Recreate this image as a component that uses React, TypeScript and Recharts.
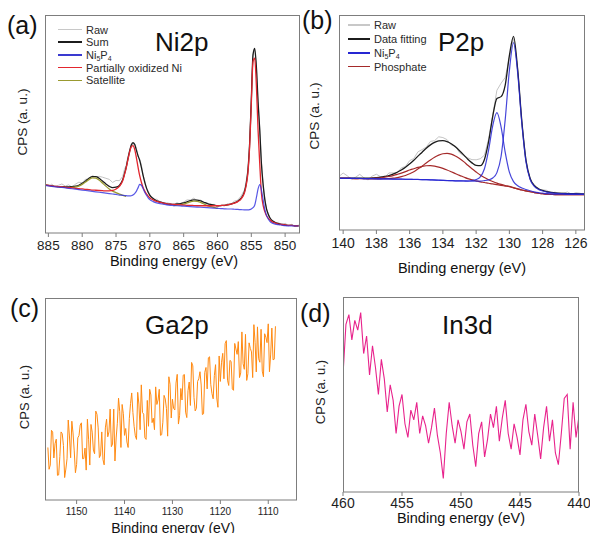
import React from 'react';
import { LineChart, Line, XAxis, YAxis } from 'recharts';

const FONT = '"Liberation Sans", Arial, Helvetica, sans-serif';
const FRAME = '#7d7d7d';
const INK = '#1e1e1e';

// ---------- (a) Ni 2p ----------
const niEnergy = [
  885.5, 885, 884.5, 884, 883.5, 883, 882.5, 882, 881.5, 881, 880.5, 880, 879.5, 879, 878.5, 878, 877.5, 877, 876.5, 876, 875.5, 875, 874.5,
  874, 873.75, 873.5, 873.25, 873, 872.75, 872.5, 872.25, 872, 871.75, 871.5, 871.25, 871, 870.75, 870.5, 870.25,
  870, 869.5, 869, 868.5, 868, 867.5, 867, 866.5, 866, 865.5, 865, 864.5, 864, 863.5, 863, 862.5, 862, 861.5, 861, 860.5, 860, 859.5, 859, 858.5, 858, 857.5, 857, 856.5,
  856, 855.75, 855.5, 855.25, 855, 854.75, 854.5, 854.25, 854, 853.75, 853.5, 853.25, 853, 852.75, 852.5, 852.25,
  852, 851.5, 851, 850.5, 850, 849.5, 849, 848.5, 848,
];
const niBackground = [
  21.8, 21.6, 21.4, 21.2, 21.0, 20.9, 20.7, 20.5, 20.3, 20.1, 19.9, 19.7, 19.5, 19.3, 19.1, 18.9, 18.7, 18.5, 18.3, 18.1, 17.9, 17.7, 17.4,
  17.1, 16.95, 16.8, 16.65, 16.5, 16.3, 16.1, 15.9, 15.7, 15.5, 15.3, 15.1, 14.9, 14.7, 14.5, 14.3,
  14.1, 13.8, 13.5, 13.3, 13.1, 12.9, 12.7, 12.6, 12.5, 12.4, 12.3, 12.2, 12.1, 12.0, 11.9, 11.8, 11.7, 11.6, 11.5, 11.4, 11.3, 11.2, 11.1, 11.0, 10.9, 10.8, 10.6, 10.4,
  10.1, 9.9, 9.6, 9.3, 9.0, 8.6, 8.2, 7.7, 7.2, 6.7, 6.2, 5.7, 5.3, 4.9, 4.6, 4.3,
  4.1, 3.8, 3.6, 3.5, 3.4, 3.3, 3.3, 3.2, 3.2,
];
const niOxidized = [
  0.2, 0.2, 0.2, 0.2, 0.3, 0.3, 0.3, 0.3, 0.4, 0.4, 0.4, 0.5, 0.5, 0.6, 0.6, 0.7, 0.8, 0.9, 1.0, 1.2, 1.6, 2.5, 4.0,
  7, 9.8, 13, 16.8, 20.5, 23.2, 24, 22.6, 19, 14.8, 11, 8.2, 6, 4.5, 3.4, 2.6,
  2.0, 1.4, 1.0, 0.8, 0.6, 0.5, 0.5, 0.5, 0.5, 0.5, 0.5, 0.5, 0.6, 0.6, 0.6, 0.7, 0.8, 0.9, 1.0, 1.1, 1.2, 1.4, 1.6, 1.9, 2.3, 2.9, 3.8, 5.3,
  8.5, 12, 18, 30, 50, 70, 72, 60, 40, 25, 12, 7, 4.5, 3, 2.2, 1.7,
  1.2, 0.8, 0.5, 0.4, 0.3, 0.2, 0.2, 0.1, 0.1,
];
const niPhosphide = [
  0, 0, 0, 0, 0, 0, 0, 0, 0, 0, 0, 0, 0, 0, 0, 0, 0, 0, 0, 0, 0, 0, 0,
  0.2, 0.25, 0.3, 0.4, 0.5, 0.8, 1.3, 2.2, 3.4, 5.2, 7, 6.8, 5.5, 4, 2.8, 1.8,
  1.2, 0.6, 0.3, 0.2, 0.1, 0, 0, 0, 0, 0, 0, 0, 0, 0, 0, 0, 0, 0, 0, 0, 0, 0, 0, 0, 0.1, 0.1, 0.2, 0.3,
  0.5, 0.7, 1.0, 1.4, 2, 3, 4.5, 8.5, 13, 15.5, 13.5, 9.5, 5.5, 3.2, 1.8, 1.0,
  0.6, 0.3, 0.2, 0.1, 0, 0, 0, 0, 0,
];
const niSatellite = [
  0, 0, 0, 0, 0, 0.1, 0.2, 0.3, 0.6, 1.0, 1.6, 2.6, 3.9, 5.2, 6.2, 6.3, 5.6, 4.4, 3.2, 2.1, 1.3, 0.8, 0.4,
  0.2, 0.1, 0, 0, 0, 0, 0, 0, 0, 0, 0, 0, 0, 0, 0, 0,
  0, 0, 0, 0, 0, 0, 0, 0, 0.3, 0.6, 1.0, 1.6, 2.2, 2.6, 2.6, 2.2, 1.6, 1.0, 0.6, 0.3, 0, 0, 0, 0, 0, 0, 0, 0,
  0, 0, 0, 0, 0, 0, 0, 0, 0, 0, 0, 0, 0, 0, 0, 0,
  0, 0, 0, 0, 0, 0, 0, 0, 0,
];
const niRawNoise = [
  0.5, -0.4, 0.8, -0.2, 0.6, 1.2, 0.3, 1.0, -0.3, 0.9, 1.4, 0.2, 0.8, -0.5, 0.4, -0.2, 0.9, 1.8, 2.6, 3.2, 2.4, 3.1, 2.2,
  1.5, 2.2, 0.8, 1.2, -0.6, 0.5, -0.8, 0.3, 0.9, -0.4, 0.6, 1.1, 0.2, 0.9, -0.3, 0.6,
  0.4, -0.5, 0.7, 0.1, -0.6, 0.5, 0.3, -0.4, 0.6, -0.2, 0.4, 0.9, 0.2, 0.8, -0.3, 0.5, -0.6, 0.3, -0.5, 0.4, -0.7, 0.2, -0.4, 0.6, 0.1, 0.8, 0.5, 1.0,
  0.8, 1.5, 0.6, 1.2, -0.8, 0.5, -0.5, 1.0, -0.6, 0.7, 0.3, -0.4, 0.6, -0.2, 0.5, -0.3,
  0.4, -0.3, 0.6, -0.4, 0.8, -0.2, 0.5, -0.3, 0.4,
];
const niTicks = [885, 880, 875, 870, 865, 860, 855, 850];

// ---------- (b) P 2p ----------
const pEnergy = [
  140.25, 140, 139.75, 139.5, 139.25, 139, 138.75, 138.5, 138.25, 138,
  137.75, 137.5, 137.25, 137, 136.75, 136.5, 136.25, 136, 135.75, 135.5,
  135.25, 135, 134.75, 134.5, 134.25, 134, 133.75, 133.5, 133.25, 133,
  132.75, 132.5, 132.25, 132, 131.75, 131.5, 131.25, 131, 130.75, 130.5,
  130.25, 130, 129.75, 129.5, 129.25, 129, 128.75, 128.5, 128.25, 128,
  127.75, 127.5, 127.25, 127, 126.75, 126.5, 126.25, 126, 125.75, 125.5,
];
const pBackground = [
  24.0, 24.0, 24.0, 23.95, 23.9, 23.9, 23.85, 23.8, 23.8, 23.75,
  23.7, 23.7, 23.65, 23.6, 23.6, 23.55, 23.5, 23.5, 23.4, 23.4,
  23.3, 23.3, 23.2, 23.1, 23.0, 22.9, 22.8, 22.7, 22.6, 22.5,
  22.4, 22.2, 22.1, 22.0, 21.8, 21.7, 21.5, 21.3, 21.0, 20.7,
  20.4, 20.1, 19.6, 19.1, 18.6, 18.2, 17.8, 17.4, 17.1, 16.9,
  16.7, 16.6, 16.5, 16.5, 16.5, 16.5, 16.5, 16.5, 16.5, 16.5,
];
const pPhosphateHigh = [
  0, 0, 0, 0, 0, 0, 0, 0, 0.02, 0.05,
  0.09, 0.17, 0.29, 0.49, 0.8, 1.25, 1.87, 2.69, 3.73, 4.99,
  6.4, 7.91, 9.41, 10.76, 11.85, 12.56, 12.8, 12.56, 11.85, 10.76,
  9.41, 7.91, 6.4, 4.99, 3.73, 2.69, 1.87, 1.25, 0.8, 0.49,
  0.29, 0.17, 0.09, 0.05, 0.02, 0, 0, 0, 0, 0,
  0, 0, 0, 0, 0, 0, 0, 0, 0, 0,
];
const pPhosphateLow = [
  0, 0, 0, 0, 0.03, 0.05, 0.09, 0.15, 0.24, 0.38,
  0.59, 0.86, 1.23, 1.7, 2.27, 2.92, 3.64, 4.39, 5.11, 5.75,
  6.26, 6.59, 6.7, 6.59, 6.26, 5.75, 5.11, 4.39, 3.64, 2.92,
  2.27, 1.7, 1.23, 0.86, 0.59, 0.38, 0.24, 0.15, 0.09, 0.05,
  0.03, 0, 0, 0, 0, 0, 0, 0, 0, 0,
  0, 0, 0, 0, 0, 0, 0, 0, 0, 0,
];
const pNi5P4Main = [
  0.07, 0.07, 0.07, 0.07, 0.08, 0.08, 0.08, 0.08, 0.09, 0.09,
  0.09, 0.1, 0.1, 0.1, 0.1, 0.11, 0.11, 0.11, 0.12, 0.13,
  0.14, 0.15, 0.16, 0.17, 0.19, 0.21, 0.23, 0.26, 0.29, 0.34,
  0.4, 0.48, 0.58, 0.73, 0.93, 1.25, 1.8, 2.9, 5.7, 13.5,
  31, 54, 67.5, 54, 31, 13.5, 5.7, 2.9, 1.8, 1.25,
  0.93, 0.73, 0.58, 0.48, 0.4, 0.34, 0.29, 0.26, 0.23, 0.21,
];
const pNi5P4Side = [
  0.04, 0.04, 0.04, 0.04, 0.05, 0.05, 0.05, 0.05, 0.05, 0.06,
  0.06, 0.06, 0.06, 0.06, 0.07, 0.07, 0.07, 0.07, 0.08, 0.09,
  0.1, 0.11, 0.12, 0.13, 0.15, 0.17, 0.2, 0.24, 0.29, 0.37,
  0.47, 0.63, 0.91, 1.47, 2.9, 6.8, 15.7, 27.3, 33.6, 27.3,
  15.7, 6.8, 2.9, 1.47, 0.91, 0.63, 0.47, 0.37, 0.29, 0.24,
  0.2, 0.17, 0.15, 0.13, 0.12, 0.11, 0.1, 0.09, 0.08, 0.07,
];
const pRawNoise = [
  0.8, 2.4, 1.1, -0.6, 0.5, 1.8, 0.2, -0.8, 0.9, 1.6,
  0.3, -0.5, 1.2, 0.6, -0.3, 1.0, 0.4, 1.5, 0.8, 2.0,
  1.2, 0.5, 1.6, 0.8, 1.9, 1.4, 0.9, -0.6, 0.4, -1.0,
  -0.4, 0.6, 1.5, 2.6, 3.2, 2.0, 1.2, 0.5, 3.8, 6.2,
  3.5, -1.0, -0.6, 0.4, -0.5, 0.3, -0.6, 0.5, -0.2, 0.3,
  0.6, -0.3, 0.4, -0.5, 0.2, 0.7, -0.2, 0.5, 0.3, -0.4,
];
const pTicks = [140, 138, 136, 134, 132, 130, 128, 126];

// ---------- (c) Ga 2p ----------
const gaEnergy = [
  1156, 1155.75, 1155.5, 1155.25, 1155, 1154.75, 1154.5, 1154.25, 1154, 1153.75, 1153.5, 1153.25, 1153, 1152.75, 1152.5, 1152.25, 1152, 1151.75, 1151.5, 1151.25,
  1151, 1150.75, 1150.5, 1150.25, 1150, 1149.75, 1149.5, 1149.25, 1149, 1148.75, 1148.5, 1148.25, 1148, 1147.75, 1147.5, 1147.25, 1147, 1146.75, 1146.5, 1146.25,
  1146, 1145.75, 1145.5, 1145.25, 1145, 1144.75, 1144.5, 1144.25, 1144, 1143.75, 1143.5, 1143.25, 1143, 1142.75, 1142.5, 1142.25, 1142, 1141.75, 1141.5, 1141.25,
  1141, 1140.75, 1140.5, 1140.25, 1140, 1139.75, 1139.5, 1139.25, 1139, 1138.75, 1138.5, 1138.25, 1138, 1137.75, 1137.5, 1137.25, 1137, 1136.75, 1136.5, 1136.25,
  1136, 1135.75, 1135.5, 1135.25, 1135, 1134.75, 1134.5, 1134.25, 1134, 1133.75, 1133.5, 1133.25, 1133, 1132.75, 1132.5, 1132.25, 1132, 1131.75, 1131.5, 1131.25,
  1131, 1130.75, 1130.5, 1130.25, 1130, 1129.75, 1129.5, 1129.25, 1129, 1128.75, 1128.5, 1128.25, 1128, 1127.75, 1127.5, 1127.25, 1127, 1126.75, 1126.5, 1126.25,
  1126, 1125.75, 1125.5, 1125.25, 1125, 1124.75, 1124.5, 1124.25, 1124, 1123.75, 1123.5, 1123.25, 1123, 1122.75, 1122.5, 1122.25, 1122, 1121.75, 1121.5, 1121.25,
  1121, 1120.75, 1120.5, 1120.25, 1120, 1119.75, 1119.5, 1119.25, 1119, 1118.75, 1118.5, 1118.25, 1118, 1117.75, 1117.5, 1117.25, 1117, 1116.75, 1116.5, 1116.25,
  1116, 1115.75, 1115.5, 1115.25, 1115, 1114.75, 1114.5, 1114.25, 1114, 1113.75, 1113.5, 1113.25, 1113, 1112.75, 1112.5, 1112.25, 1112, 1111.75, 1111.5, 1111.25,
  1111, 1110.75, 1110.5, 1110.25, 1110, 1109.75, 1109.5, 1109.25, 1109, 1108.75, 1108.5,
];
const gaCounts = [
  26, 15.2, 17.3, 34.5, 33.6, 20.8, 27.9, 30.1, 12.2, 12.4, 21.5, 33.7, 32.8, 27, 11.1, 15.3, 20.4, 39.6, 31.7, 20.9,
  39, 33.2, 24.3, 13.5, 17.6, 30.8, 31.9, 37.1, 38.2, 20.4, 20.5, 25.7, 14.8, 40, 30.1, 17.3, 37.4, 33.6, 24.7, 22.9,
  44, 42.4, 35.7, 21, 22.3, 33.7, 20, 17.4, 35.7, 40, 31.3, 33.7, 45, 26.4, 27.7, 45, 19.3, 30.7, 38, 50.4,
  43.7, 26, 47.3, 42.7, 32, 35.4, 28.7, 26, 40.3, 47.7, 53, 43.3, 36.5, 31.8, 30, 53.3, 47.5, 34.8, 57, 43.3,
  42.5, 30.8, 30, 49.3, 36.5, 54.8, 52, 38.3, 40.5, 34.8, 56, 47.3, 49.5, 54.8, 32, 32.3, 38.5, 51.8, 50, 45.3,
  31.6, 61, 57.3, 40.6, 49.9, 45.3, 44.6, 57.9, 62.2, 37.6, 41.9, 55.2, 49.5, 61.8, 62.1, 43.5, 40.8, 54.1, 58.4, 46.8,
  68.1, 66.4, 50.7, 44.1, 45.4, 58.7, 60, 63.5, 56.9, 42.3, 42.7, 63.2, 65.6, 55, 70.4, 70.9, 57.3, 52.7, 50.1, 61.6,
  67, 50.5, 45.9, 71.3, 58.7, 68.2, 72.6, 60, 77.4, 78.9, 59.3, 56.7, 69.1, 68.6, 55, 54.3, 77.5, 74.8, 72.1, 78.4,
  60.6, 62.9, 83.2, 67.5, 64.7, 82, 59.2, 62.5, 77.8, 75.1, 73.3, 60.6, 86.8, 78.1, 63.4, 85.7, 69.9, 68.2, 84.5, 63.8,
  61, 82.3, 80.6, 77.9, 87.2, 63.5, 71.8, 85.1, 69.4, 69.7, 86,
];
const gaTicks = [1150, 1140, 1130, 1120, 1110];

// ---------- (d) In 3d ----------
const inEnergy = [
  460, 459.75, 459.5, 459.25, 459, 458.75, 458.5, 458.25, 458, 457.75,
  457.5, 457.25, 457, 456.75, 456.5, 456.25, 456, 455.75, 455.5, 455.25,
  455, 454.75, 454.5, 454.25, 454, 453.75, 453.5, 453.25, 453, 452.75,
  452.5, 452.25, 452, 451.75, 451.5, 451.25, 451, 450.75, 450.5, 450.25,
  450, 449.75, 449.5, 449.25, 449, 448.75, 448.5, 448.25, 448, 447.75,
  447.5, 447.25, 447, 446.75, 446.5, 446.25, 446, 445.75, 445.5, 445.25,
  445, 444.75, 444.5, 444.25, 444, 443.75, 443.5, 443.25, 443, 442.75,
  442.5, 442.25, 442, 441.75, 441.5, 441.25, 441, 440.75, 440.5, 440.25,
  440,
];
const inCounts = [
  60, 86, 91, 78, 88, 83, 92, 71, 80, 60,
  75, 64, 50, 68, 58, 41, 55, 47, 30, 44,
  50, 35, 28, 42, 37, 46, 30, 39, 34, 25,
  33, 43, 29, 20, 7, 30, 46, 34, 25, 37,
  31, 22, 36, 40, 24, 13, 30, 36, 18, 27,
  40, 33, 44, 26, 38, 47, 30, 22, 35, 28,
  19, 37, 45, 31, 24, 40, 29, 17, 33, 44,
  26, 37, 20, 14, 30, 48, 50, 22, 46, 28,
  39,
];
const inTicks = [460, 455, 450, 445, 440];

// tables for recharts
const niData = niEnergy.map((e, i) => {
  const bg = niBackground[i];
  const sum = bg + niOxidized[i] + niPhosphide[i] + niSatellite[i];
  const satOn = niSatellite[i] > 0 || (niSatellite[i - 1] ?? 0) > 0 || (niSatellite[i + 1] ?? 0) > 0;
  return {
    e,
    raw: sum + niRawNoise[i],
    sum,
    phosphide: bg + niPhosphide[i],
    oxidized: bg + niOxidized[i],
    satellite: satOn ? bg + niSatellite[i] : null,
  };
});

const pData = pEnergy.map((e, i) => {
  const bg = pBackground[i];
  const fit = bg + pPhosphateHigh[i] + pPhosphateLow[i] + pNi5P4Main[i] + pNi5P4Side[i];
  return {
    e,
    raw: fit + pRawNoise[i],
    fit,
    phosHigh: bg + pPhosphateHigh[i],
    phosLow: bg + pPhosphateLow[i],
    ni5p4Main: bg + pNi5P4Main[i],
    ni5p4Side: bg + pNi5P4Side[i],
  };
});

const gaData = gaEnergy.map((e, i) => ({ e, cps: gaCounts[i] }));
const inData = inEnergy.map((e, i) => ({ e, cps: inCounts[i] }));

type Margin = { top: number; right: number; bottom: number; left: number };
const AXIS_H = 30;

function axes(domain: [number, number], ticks: number[], fontSize: number, gap: number) {
  return [
    <XAxis
      key="xb"
      xAxisId="b"
      dataKey="e"
      type="number"
      domain={domain}
      reversed
      allowDataOverflow
      ticks={ticks}
      interval={0}
      height={AXIS_H}
      stroke={FRAME}
      tickSize={4}
      tickMargin={gap}
      tick={{ fill: INK, fontSize, fontFamily: FONT }}
    />,
    <YAxis key="yl" yAxisId="l" type="number" domain={[0, 100]} allowDataOverflow hide />,
  ];
}

function curve(key: string, color: string, width = 1.2, smooth = true, opacity = 1) {
  return (
    <Line
      key={key}
      xAxisId="b"
      yAxisId="l"
      dataKey={key}
      type={smooth ? 'monotone' : 'linear'}
      stroke={color}
      strokeWidth={width}
      strokeOpacity={opacity}
      dot={false}
      activeDot={false}
      isAnimationActive={false}
    />
  );
}

function Panel({ x, y, w, h, margin, data, children }: { x: number; y: number; w: number; h: number; margin: Margin; data: any[]; children: React.ReactNode }) {
  return (
    <div style={{ position: 'absolute', left: x, top: y, width: w, height: h }}>
      <LineChart width={w} height={h} data={data} margin={margin}>
        {children}
      </LineChart>
      {/* box around the plotting area */}
      <div
        style={{
          position: 'absolute',
          left: margin.left,
          top: margin.top,
          width: w - margin.left - margin.right,
          height: h - margin.top - margin.bottom - AXIS_H,
          boxSizing: 'border-box',
          border: `1px solid ${FRAME}`,
          borderBottom: 'none',
          pointerEvents: 'none',
        }}
      />
    </div>
  );
}

const sub = (n: string) => <sub style={{ fontSize: 7, verticalAlign: -2, lineHeight: 0 }}>{n}</sub>;

function InsetLegend({ x, y, step, line, items }: { x: number; y: number; step: number; line: number; items: { label: React.ReactNode; color: string }[] }) {
  return (
    <div style={{ position: 'absolute', left: x, top: y }}>
      {items.map((it, i) => (
        <div
          key={i}
          style={{ position: 'absolute', left: 0, top: i * step, height: 12, display: 'flex', alignItems: 'center', whiteSpace: 'nowrap', fontSize: 11, lineHeight: '12px', color: '#2a2a2a' }}
        >
          <span style={{ display: 'inline-block', width: line, height: 1.5, background: it.color, marginRight: 4 }} />
          <span>{it.label}</span>
        </div>
      ))}
    </div>
  );
}

function Text({ x, y, size, children, center }: { x: number; y: number; size: number; children: React.ReactNode; center?: boolean }) {
  return (
    <div style={{ position: 'absolute', left: x, top: y, fontSize: size, lineHeight: 1, whiteSpace: 'nowrap', color: '#111', transform: center ? 'translateX(-50%)' : undefined }}>
      {children}
    </div>
  );
}

function YTitle({ x, y, size }: { x: number; y: number; size: number }) {
  return (
    <div style={{ position: 'absolute', left: x, top: y, fontSize: size, lineHeight: 1, whiteSpace: 'nowrap', color: '#222', transform: 'translate(-50%, -50%) rotate(-90deg)' }}>
      CPS (a. u.)
    </div>
  );
}

export default function App() {
  return (
    <div style={{ position: 'absolute', left: 0, top: 0, width: 590, height: 533, background: '#fff', fontFamily: FONT, overflow: 'hidden' }}>
      <Panel x={0} y={0} w={305} h={280} data={niData} margin={{ top: 15, right: 5, bottom: 17, left: 45 }}>
        {axes([847.8, 885.5], niTicks, 13.5, 3)}
        {curve('raw', '#c4c4c4', 1, false)}
        {curve('sum', '#1c1c1c', 1.3)}
        {curve('satellite', '#9a9a30', 1.3)}
        {curve('oxidized', '#e3262e', 1.3)}
        {curve('phosphide', '#2f2fe0', 1.2, true, 0.8)}
      </Panel>

      <Panel x={300} y={0} w={290} h={280} data={pData} margin={{ top: 15, right: 5, bottom: 20, left: 39 }}>
        {axes([125.45, 140.25], pTicks, 14, 4)}
        {curve('raw', '#c4c4c4', 1, false)}
        {curve('fit', '#1c1c1c', 1.3)}
        {curve('phosLow', '#a52a2a', 1.2)}
        {curve('phosHigh', '#a52a2a', 1.2)}
        {curve('ni5p4Side', '#2626d2', 1.2, true, 0.85)}
        {curve('ni5p4Main', '#2626d2', 1.2, true, 0.85)}
      </Panel>

      <Panel x={0} y={290} w={300} h={243} data={gaData} margin={{ top: 8, right: 3, bottom: 3, left: 45 }}>
        {axes([1104, 1156.6], gaTicks, 10, 4)}
        {curve('cps', '#ff8a12', 1, false)}
      </Panel>

      <Panel x={300} y={290} w={290} h={243} data={inData} margin={{ top: 7, right: 11, bottom: 11, left: 43 }}>
        {axes([440, 460], inTicks, 14, 2)}
        {curve('cps', '#e8238c', 1.1, false)}
      </Panel>

      <InsetLegend
        x={58}
        y={23.5}
        step={12.7}
        line={24}
        items={[
          { label: 'Raw', color: '#c8c8c8' },
          { label: 'Sum', color: '#1c1c1c' },
          { label: <> Ni{sub('5')}P{sub('4')}</>, color: '#3a3ad0' },
          { label: 'Partially oxidized Ni', color: '#e3262e' },
          { label: 'Satellite', color: '#9a9a30' },
        ]}
      />
      <InsetLegend
        x={348}
        y={19}
        step={13.9}
        line={22}
        items={[
          { label: 'Raw', color: '#c8c8c8' },
          { label: 'Data fitting', color: '#1c1c1c' },
          { label: <>Ni{sub('5')}P{sub('4')}</>, color: '#2626d2' },
          { label: 'Phosphate', color: '#a52a2a' },
        ]}
      />

      <Text x={7} y={13} size={25}>(a)</Text>
      <Text x={302} y={8} size={25}>(b)</Text>
      <Text x={10} y={296} size={25}>(c)</Text>
      <Text x={300} y={301} size={25}>(d)</Text>

      <Text x={155} y={28.5} size={26}>Ni2p</Text>
      <Text x={438} y={28.5} size={26}>P2p</Text>
      <Text x={145} y={312} size={26}>Ga2p</Text>
      <Text x={442} y={312} size={26}>In3d</Text>

      <Text x={174} y={254} size={14.5} center>Binding energy (eV)</Text>
      <Text x={462} y={261} size={14.5} center>Binding energy (eV)</Text>
      <Text x={173} y={521} size={14} center>Binding energy (eV)</Text>
      <Text x={461} y={511} size={14.5} center>Binding energy (eV)</Text>

      <YTitle x={23} y={122} size={13.5} />
      <YTitle x={315} y={116} size={13.5} />
      <YTitle x={24} y={397} size={13} />
      <YTitle x={320} y={392} size={13} />
    </div>
  );
}
